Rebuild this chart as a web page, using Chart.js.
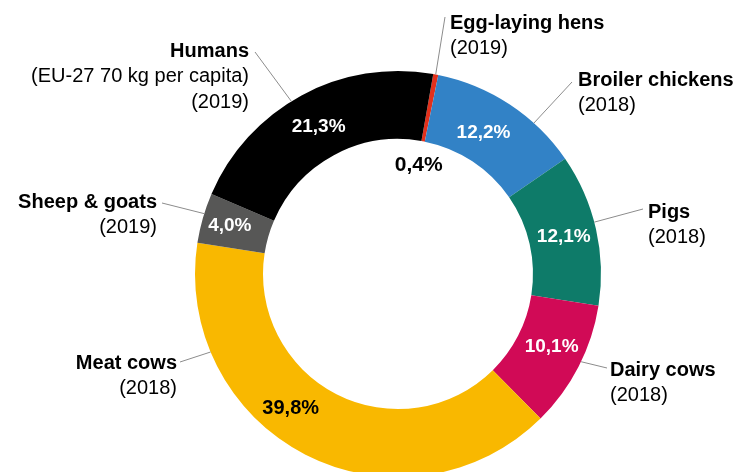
<!DOCTYPE html>
<html>
<head>
<meta charset="utf-8">
<script src="https://cdn.jsdelivr.net/npm/chart.js@4.4.0/dist/chart.umd.min.js"></script>
<style>
    html, body { margin: 0; padding: 0; background: #fff; overflow: hidden; }
    #wrap { width: 741px; height: 480px; }
</style>
</head>
<body>
<div id="wrap"><canvas id="donut" width="741" height="480"></canvas></div>
<script>
// Data
const categories = ['Egg-laying hens', 'Broiler chickens', 'Pigs', 'Dairy cows', 'Meat cows', 'Sheep & goats', 'Humans'];
const notes = [['(2019)'], ['(2018)'], ['(2018)'], ['(2018)'], ['(2018)'], ['(2019)'], ['(EU-27 70 kg per capita)', '(2019)']];
const shares = [0.4, 12.2, 12.1, 10.1, 39.8, 4.0, 21.3];
const colors = ['#e3301b', '#3282c6', '#0e7b69', '#d10a56', '#f9b800', '#575756', '#000000'];

// Where the percentage sits inside each slice (fraction of arc, radius in px, text colour)
const pctPlace = [
    { frac: 0.5, r: 111, color: '#000', size: 21 },
    { frac: 0.45, r: 165, color: '#fff', size: 19 },
    { frac: 0.5, r: 170, color: '#fff', size: 19 },
    { frac: 0.45, r: 170, color: '#fff', size: 19 },
    { frac: 0.58, r: 172, color: '#000', size: 20 },
    { frac: 0.5, r: 175, color: '#fff', size: 19 },
    { frac: 0.5, r: 167, color: '#fff', size: 19 }
];

// Callouts: leader start angle on the outer edge (deg, clockwise from top), leader end, text anchor
const callouts = [
    { deg: 10.7, end: [445, 17], tx: 450, ty: 23, align: 'left' },
    { deg: 42, end: [572, 82], tx: 578, ty: 80, align: 'left' },
    { deg: 75.2, end: [643, 209], tx: 648, ty: 212, align: 'left' },
    { deg: 115.6, end: [607, 368], tx: 610, ty: 370, align: 'left' },
    { deg: 247.4, end: [180, 362], tx: 177, ty: 363, align: 'right' },
    { deg: 287.3, end: [162, 203], tx: 157, ty: 202, align: 'right' },
    { deg: 328.3, end: [255, 52], tx: 249, ty: 51, align: 'right' }
];

const FONT = '"Liberation Sans", Arial, sans-serif';

function formatShare(v) {
    return v.toFixed(1).replace('.', ',') + '%';
}

const labelPlugin = {
    id: 'sliceLabels',
    afterDatasetsDraw(chart) {
        const ctx = chart.ctx;
        const arcs = chart.getDatasetMeta(0).data;
        ctx.save();
        arcs.forEach((arc, i) => {
            const p = arc.getProps(['x', 'y', 'startAngle', 'endAngle', 'outerRadius']);

            // percentage inside the ring
            const place = pctPlace[i];
            const a = p.startAngle + (p.endAngle - p.startAngle) * place.frac;
            ctx.fillStyle = place.color;
            ctx.font = `bold ${place.size}px ${FONT}`;
            ctx.textAlign = 'center';
            ctx.textBaseline = 'middle';
            ctx.fillText(formatShare(shares[i]), p.x + Math.cos(a) * place.r, p.y + Math.sin(a) * place.r);

            // leader line
            const c = callouts[i];
            const la = (c.deg - 90) * Math.PI / 180;
            ctx.strokeStyle = '#8c8c8c';
            ctx.lineWidth = 1;
            ctx.beginPath();
            ctx.moveTo(p.x + Math.cos(la) * p.outerRadius, p.y + Math.sin(la) * p.outerRadius);
            ctx.lineTo(c.end[0], c.end[1]);
            ctx.stroke();

            // category name + notes
            ctx.fillStyle = '#000';
            ctx.textAlign = c.align;
            ctx.font = `bold 20px ${FONT}`;
            ctx.fillText(categories[i], c.tx, c.ty);
            ctx.font = `20px ${FONT}`;
            notes[i].forEach((line, j) => {
                ctx.fillText(line, c.tx, c.ty + 25.5 * (j + 1));
            });
        });
        ctx.restore();
    }
};

new Chart(document.getElementById('donut').getContext('2d'), {
    type: 'doughnut',
    data: {
        labels: categories,
        datasets: [{
            data: shares,
            backgroundColor: colors,
            borderWidth: 0
        }]
    },
    options: {
        responsive: false,
        devicePixelRatio: 1,
        animation: false,
        rotation: 10,
        cutout: '66.5%',
        layout: {
            padding: { left: 195, right: 140, top: 71, bottom: 3 }
        },
        plugins: {
            legend: { display: false },
            tooltip: { enabled: false }
        }
    },
    plugins: [labelPlugin]
});
</script>
</body>
</html>
